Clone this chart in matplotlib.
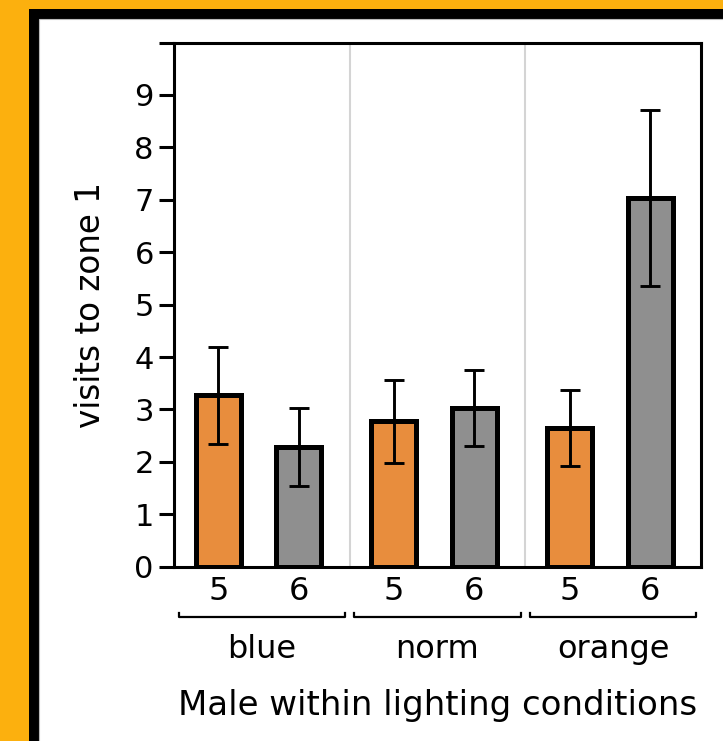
import matplotlib
matplotlib.use("Agg")
import matplotlib.pyplot as plt
from matplotlib.patches import Rectangle
import matplotlib.transforms as mtransforms

# data
groups = ["blue", "norm", "orange"]
males = ["5", "6"]
means = [[3.27, 2.28], [2.77, 3.03], [2.65, 7.04]]
errs = [[0.92, 0.75], [0.80, 0.72], [0.72, 1.68]]
bar_colors = ["#E88D3D", "#8F8F8F"]

plt.rcParams['font.family'] = ['DejaVu Sans']

W, H = 723, 741
fig = plt.figure(figsize=(W / 100, H / 100), dpi=100)
fig.patch.set_facecolor("#FCB00E")

# black frame + white panel
fig.patches.append(Rectangle((29 / W, -0.1), 1.2, 1 - 9 / H + 0.1,
                             transform=fig.transFigure, facecolor="black",
                             edgecolor="none", zorder=-10))
fig.patches.append(Rectangle((39 / W, -0.1), 1.2, 1 - 19 / H + 0.1,
                             transform=fig.transFigure, facecolor="white",
                             edgecolor="#bbbbbb", linewidth=0.8, zorder=-9))

ax_l, ax_r, ax_t, ax_b = 174, 701, 42.5, 566.7
ax = fig.add_axes([ax_l / W, 1 - ax_b / H, (ax_r - ax_l) / W, (ax_b - ax_t) / H])
ax.set_facecolor("white")

offsets = [0.252, 0.710]
width = 0.256
xs, labels = [], []
for gi, g in enumerate(groups):
    for mi, m in enumerate(males):
        x = gi + offsets[mi]
        ax.bar(x, means[gi][mi], width=width, color=bar_colors[mi],
               edgecolor="black", linewidth=3.6, zorder=3)
        ax.errorbar(x, means[gi][mi], yerr=errs[gi][mi], color="black",
                    elinewidth=2.1, capsize=7.5, capthick=2.1, zorder=4)
        xs.append(x)
        labels.append(m)

for b in range(1, len(groups)):
    ax.axvline(b, color="#d4d4d4", linewidth=1.5, zorder=1)

ax.set_xlim(0, len(groups))
ax.set_ylim(0, 10)
ax.set_yticks(range(0, 11))
ax.set_yticklabels([str(i) for i in range(10)] + [""])
ax.set_xticks(xs)
ax.set_xticklabels(labels)
ax.tick_params(axis="y", length=10.5, width=2.2, labelsize=22, pad=4)
ax.tick_params(axis="x", length=0, labelsize=23, pad=7)
for s in ax.spines.values():
    s.set_linewidth(2.2)

ax.set_ylabel("visits to zone 1", fontsize=23.5, labelpad=20)

# group brackets and labels
trans = mtransforms.blended_transform_factory(ax.transData, ax.transAxes)
inset = 0.027
for gi, g in enumerate(groups):
    x0, x1 = gi + inset, gi + 1 - inset
    ax.plot([x0, x0, x1, x1], [-0.088, -0.0963, -0.0963, -0.088], color="black",
            linewidth=1.6, transform=trans, clip_on=False)
    ax.text(gi + 0.5, -0.1736, g, transform=trans, ha="center", va="baseline",
            fontsize=23)

ax.text(0.5, -0.283, "Male within lighting conditions", transform=ax.transAxes,
        ha="center", va="baseline", fontsize=24.5)

fig.savefig("out.png", dpi=100, facecolor=fig.get_facecolor())
